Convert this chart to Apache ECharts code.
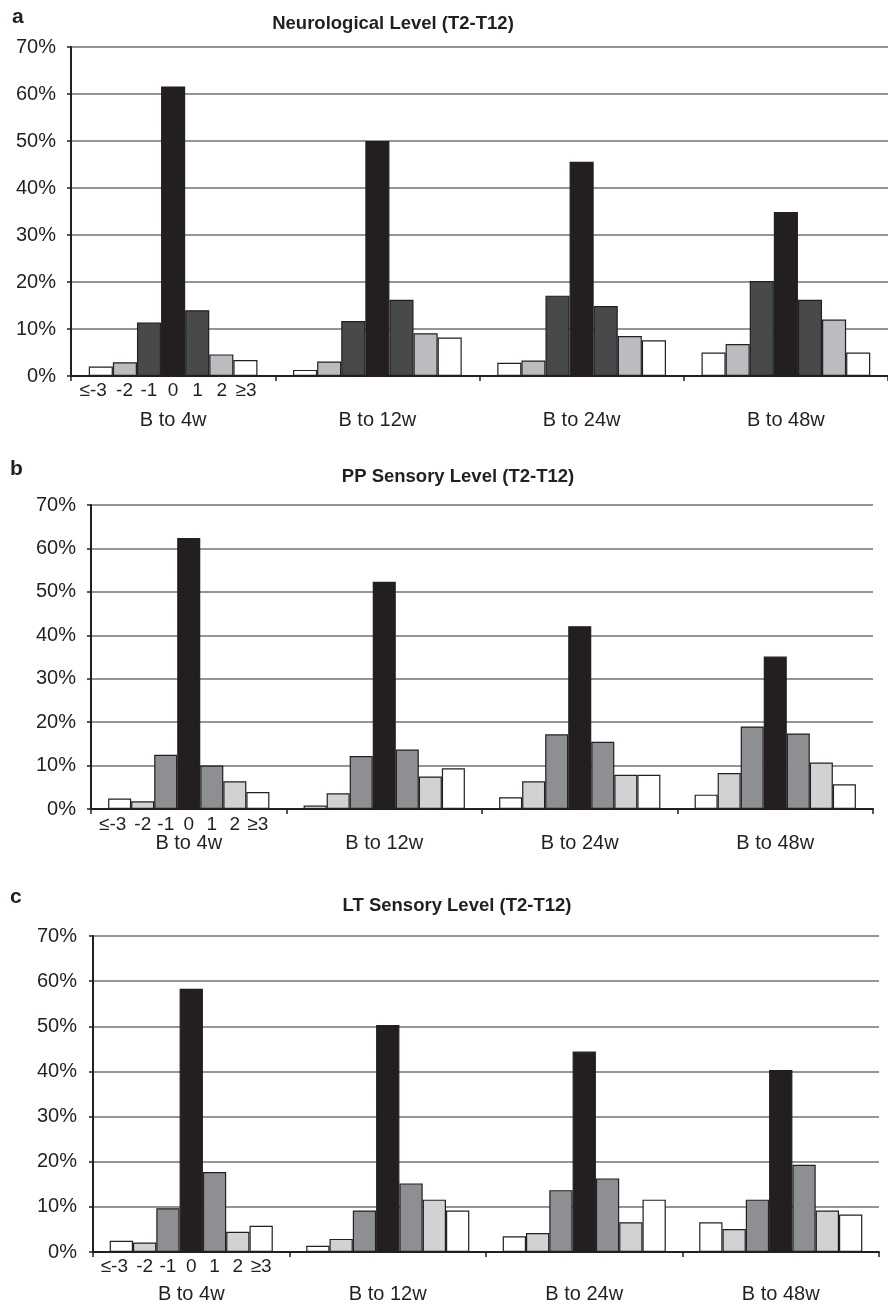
<!DOCTYPE html>
<html>
<head>
<meta charset="utf-8">
<script src="https://cdn.jsdelivr.net/npm/echarts@6/dist/echarts.min.js"></script>
<style>
  html, body { margin: 0; padding: 0; background: #ffffff; }
  #chart { width: 888px; height: 1304px; }
</style>
</head>
<body>
<div id="chart"></div>
<script>
// Time windows (groups) and level-change categories (bars within a group)
const groups = ['B to 4w', 'B to 12w', 'B to 24w', 'B to 48w'];
const changes = ['≤-3', '-2', '-1', '0', '1', '2', '≥3'];

// Percent of patients per level change, one array per time window
const neuro4w  = [2.0, 2.9, 11.4, 61.6, 14.0, 4.6, 3.4];
const neuro12w = [1.3, 3.1, 11.7, 50.0, 16.2, 9.1, 8.2];
const neuro24w = [2.8, 3.3, 17.1, 45.6, 14.9, 8.5, 7.6];
const neuro48w = [5.0, 6.8, 20.2, 34.9, 16.2, 12.0, 5.0];

const pp4w  = [2.4, 1.8, 12.5, 62.4, 10.0, 6.4, 3.9];
const pp12w = [0.8, 3.6, 12.2, 52.3, 13.7, 7.5, 9.4];
const pp24w = [2.7, 6.4, 17.2, 42.1, 15.5, 7.9, 7.9];
const pp48w = [3.3, 8.3, 19.0, 35.1, 17.4, 10.7, 5.7];

const lt4w  = [2.5, 2.1, 9.7, 58.3, 17.7, 4.5, 5.8];
const lt12w = [1.4, 2.9, 9.2, 50.3, 15.2, 11.6, 9.2];
const lt24w = [3.5, 4.2, 13.7, 44.4, 16.3, 6.6, 11.6];
const lt48w = [6.6, 5.1, 11.6, 40.3, 19.3, 9.2, 8.3];

const titles = ['Neurological Level (T2-T12)', 'PP Sensory Level (T2-T12)', 'LT Sensory Level (T2-T12)'];
const letters = ['a', 'b', 'c'];

const INK = '#231f20';
const FONT = '"Liberation Sans", Arial, Helvetica, sans-serif';

const paletteA = ['#ffffff', '#bbbcbf', '#48494b', '#231f20', '#48494b', '#bbbcbf', '#ffffff'];
const paletteBC = ['#ffffff', '#d1d2d4', '#8e8f93', '#231f20', '#8e8f93', '#d1d2d4', '#ffffff'];

const panels = [
  { data: [neuro4w, neuro12w, neuro24w, neuro48w], palette: paletteA,
    grid: { left: 71, top: 47, width: 825, height: 329 }, barW: 24.3, gap: '17.4%',
    subMargin: 5, groupMargin: 34, yMargin: 15,
    letter: [12, 7], title: [393, 14] },
  { data: [pp4w, pp12w, pp24w, pp48w], palette: paletteBC,
    grid: { left: 91, top: 505, width: 782, height: 304 }, barW: 23.0, gap: '17.5%',
    subMargin: 6, groupMargin: 24, yMargin: 15,
    letter: [10, 459], title: [458, 467] },
  { data: [lt4w, lt12w, lt24w, lt48w], palette: paletteBC,
    grid: { left: 93, top: 936, width: 786, height: 316 }, barW: 23.3, gap: '17%',
    subMargin: 5, groupMargin: 32, yMargin: 16,
    letter: [10, 887], title: [457, 896] }
];

const grid = [], xAxis = [], yAxis = [], series = [], graphic = [];

panels.forEach((p, i) => {
  grid.push(Object.assign({ containLabel: false }, p.grid));

  // Value axis 0–70 %
  yAxis.push({
    type: 'value', gridIndex: i, min: 0, max: 70, interval: 10,
    axisLine: { show: true, lineStyle: { color: INK, width: 2 } },
    axisTick: { show: true, length: 4, lineStyle: { color: INK, width: 1.5 } },
    axisLabel: { formatter: '{value}%', color: INK, fontSize: 20, fontFamily: FONT, margin: p.yMargin },
    splitLine: { show: true, lineStyle: { color: '#939598', width: 2 } }
  });

  // Category axis carrying the bars and the time-window labels
  xAxis.push({
    type: 'category', gridIndex: i, data: groups, position: 'bottom',
    axisLine: { show: true, lineStyle: { color: INK, width: 2 } },
    axisTick: { show: true, length: 5, lineStyle: { color: INK, width: 1.5 } },
    axisLabel: { color: INK, fontSize: 20, fontFamily: FONT, margin: p.groupMargin, interval: 0 }
  });

  // Companion axis that prints the level-change keys under the first group,
  // one fixed-width slot per bar (the first key nudged left so it clears the next)
  const keyStyle = { align: 'center', fontSize: 19, fontFamily: FONT, color: INK };
  const rich = {
    t: Object.assign({ width: p.barW }, keyStyle),
    f: Object.assign({ width: p.barW - 14, padding: [0, 14, 0, 0] }, keyStyle)
  };
  xAxis.push({
    type: 'category', gridIndex: i, data: groups, position: 'bottom',
    axisLine: { show: false }, axisTick: { show: false }, splitLine: { show: false },
    axisLabel: {
      interval: 0, margin: p.subMargin, rich: rich,
      formatter: (v, idx) => idx === 0
        ? changes.map((c, k) => '{' + (k === 0 ? 'f' : 't') + '|' + c + '}').join('')
        : ''
    }
  });

  changes.forEach((c, k) => {
    series.push({
      type: 'bar', name: c, xAxisIndex: i * 2, yAxisIndex: i,
      data: p.data.map(g => g[k]),
      barGap: '0%', barCategoryGap: p.gap,
      itemStyle: { color: p.palette[k], borderColor: INK, borderWidth: 1.2 },
      emphasis: { disabled: true },
      animation: false
    });
  });

  graphic.push({
    type: 'text', left: p.letter[0], top: p.letter[1],
    style: { text: letters[i], fill: INK, font: 'bold 21px ' + FONT }
  });
  graphic.push({
    type: 'text', x: p.title[0], y: p.title[1],
    style: { text: titles[i], fill: INK, font: 'bold 18.5px ' + FONT, textAlign: 'center', textVerticalAlign: 'top' }
  });
});

const chart = echarts.init(document.getElementById('chart'), null, { renderer: 'canvas' });
chart.setOption({
  animation: false,
  backgroundColor: '#ffffff',
  grid: grid,
  xAxis: xAxis,
  yAxis: yAxis,
  series: series,
  graphic: graphic
});
</script>
</body>
</html>
